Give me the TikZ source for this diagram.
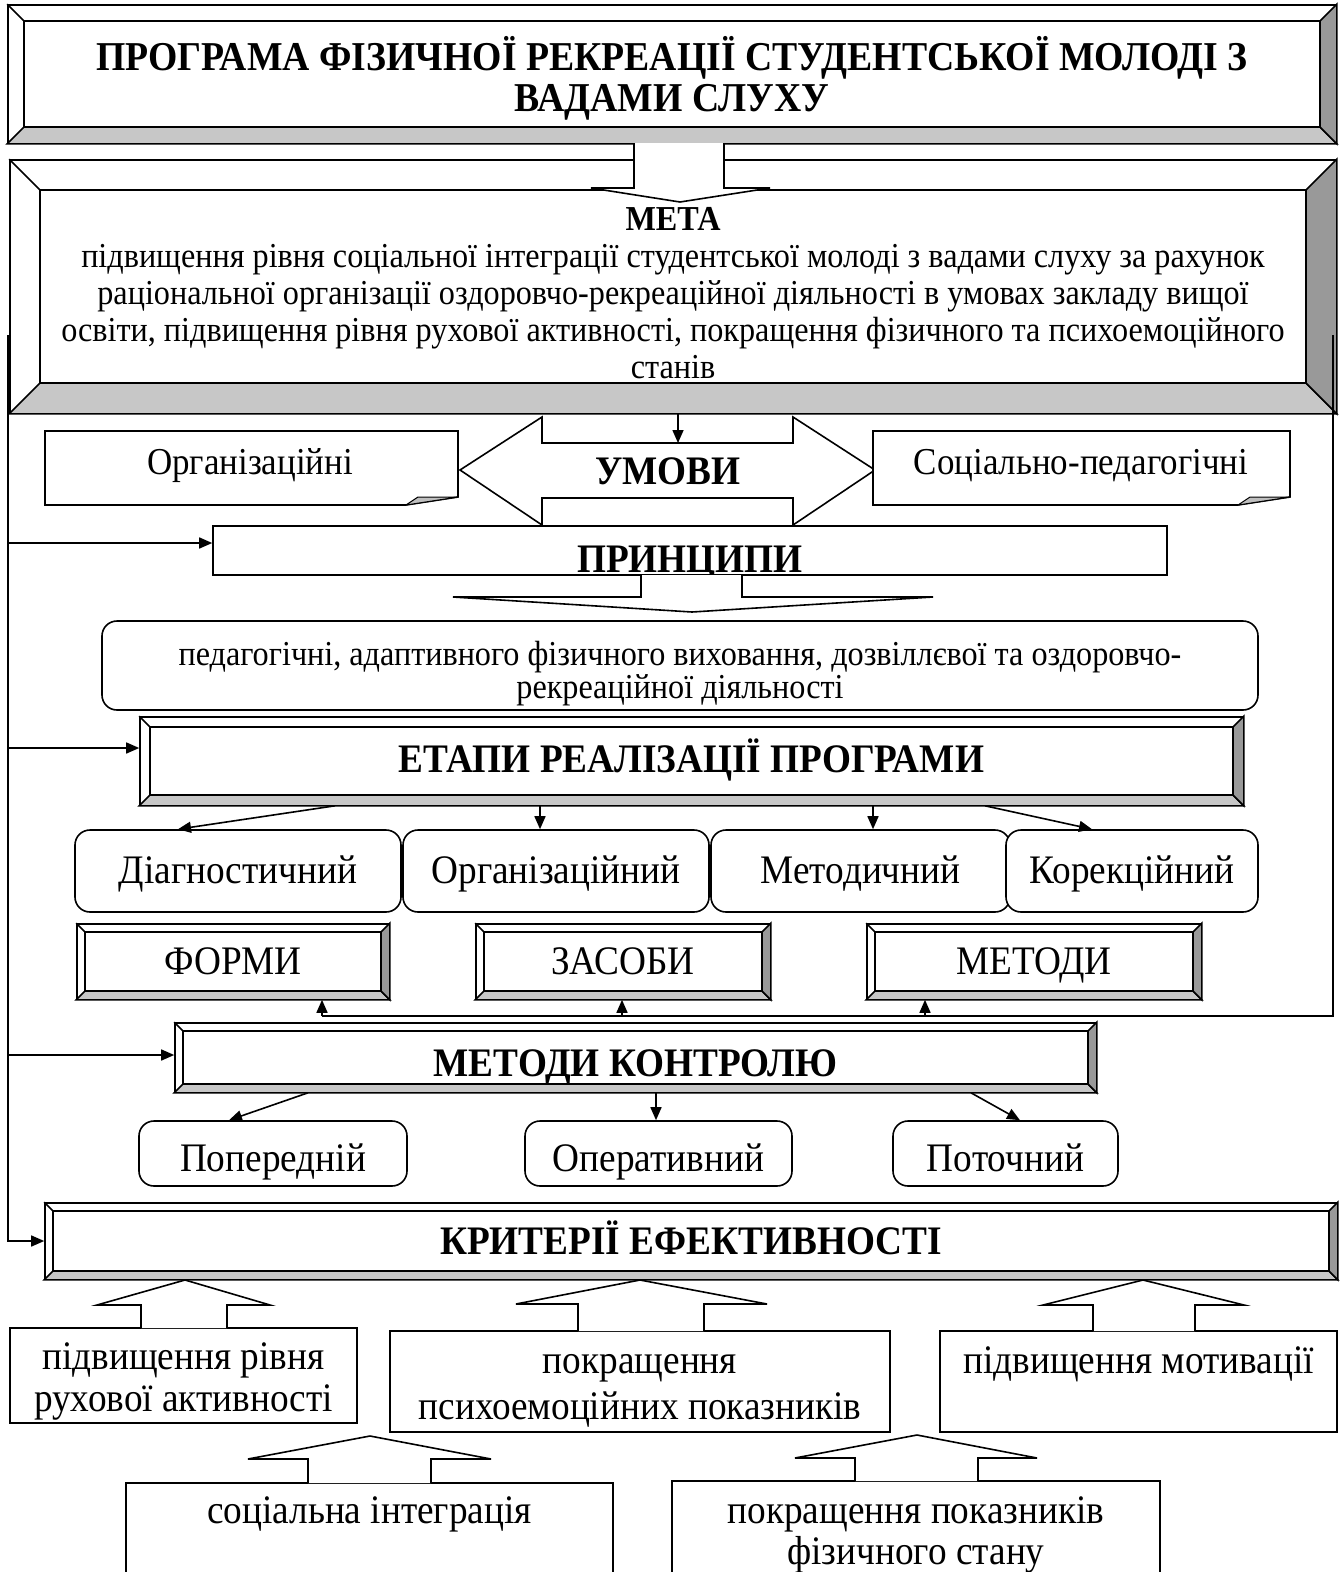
\documentclass[tikz,border=0pt]{standalone}
\usepackage{fontspec}
\setmainfont{Liberation Serif}[FakeStretch=0.92]
\usetikzlibrary{arrows.meta}

\newcommand{\bevelface}[2]{%
  \draw[fill=black!22] (#1.south west) -- (#1.south east) -- ([shift={(-#2,-#2)}]#1.south east) -- ([shift={(#2,-#2)}]#1.south west) -- cycle;
  \draw[fill=black!40] (#1.south east) -- (#1.north east) -- ([shift={(-#2,#2)}]#1.north east) -- ([shift={(-#2,-#2)}]#1.south east) -- cycle;
  \draw (#1.north west) -- ([shift={(#2,#2)}]#1.north west);
  \draw ([shift={(#2,#2)}]#1.north west) rectangle ([shift={(-#2,-#2)}]#1.south east);
}
\newcommand{\blockarrow}[8]{%
  \draw[fill=white] (#5,#8) -- (#5,#7) -- (#3,#7) -- (#1,#2) -- (#4,#7) -- (#6,#7) -- (#6,#8);
}
\newcommand{\notebox}[4]{%
  \draw[fill=white] (#1,#2) -- (#3,#2) -- (#3,{#4-8}) -- ({#3-52},#4) -- (#1,#4) -- cycle;
  \draw[fill=black!25,line width=1pt] ({#3-52},#4) -- ({#3-40},{#4-8}) -- (#3,{#4-8}) -- cycle;
}
\newcommand{\stack}[1]{\vbox{\lineskiplimit=-100pt\halign{\hfil##\hfil\cr#1\crcr}}}

\begin{document}
\begin{tikzpicture}[x=1pt,y=-1pt,line width=1.6pt,
  plain/.style={draw,fill=white,inner sep=0pt},
  rbox/.style={plain,rounded corners=15pt},
  drop/.style={text depth=10pt,text height=#1},
  small/.style={font=\fontsize{35}{37}\selectfont},
  note/.style={font=\fontsize{38}{42}\selectfont},
  lbl/.style={font=\fontsize{40.5}{42}\selectfont},
  head/.style={font=\fontsize{40.5}{42}\selectfont\bfseries},
  arr/.style={-{Triangle[length=13pt,width=11pt]}}]
\useasboundingbox (0,0) rectangle (1344,1572);
\clip (0,0) rectangle (1344,1572);

\node (title) at (672,74) [plain,minimum width=1328pt,minimum height=138pt,drop=84pt,
  font=\fontsize{41}{41}\selectfont\bfseries] {\stack{ПРОГРАМА ФІЗИЧНОЇ РЕКРЕАЦІЇ СТУДЕНТСЬКОЇ МОЛОДІ З\cr ВАДАМИ СЛУХУ}};
\bevelface{title}{17}

\node (meta) at (673,286.5) [plain,minimum width=1326pt,minimum height=253pt,drop=193pt,
  font=\fontsize{35}{37}\selectfont] {\stack{\textbf{МЕТА}\cr підвищення рівня соціальної інтеграції студентської молоді з вадами слуху за рахунок\cr раціональної організації оздоровчо-рекреаційної діяльності в умовах закладу вищої\cr освіти, підвищення рівня рухової активності, покращення фізичного та психоемоційного\cr станів}};
\bevelface{meta}{31}
\blockarrow{680}{202}{591}{770}{634}{724}{188}{143}

\draw[fill=white] (460,470) -- (542,417) -- (542,443) -- (793,443) -- (793,417) -- (875,470) -- (793,525) -- (793,498) -- (542,498) -- (542,525) -- cycle;
\node (umovy) at (668,484) [head,anchor=base] {УМОВИ};
\coordinate (umtop) at (678,443);
\draw[arr] (678,0 |- meta.south) -- (umtop);

\notebox{45}{431}{458}{505}
\node (orgn) at (250,474) [note,anchor=base] {Організаційні};
\notebox{873}{431}{1290}{505}
\node (socp) at (1081,474) [note,anchor=base] {Соціально-педагогічні};

\node (pryn) at (690,550.5) [plain,minimum width=954pt,minimum height=49pt,head,text height=46pt,text depth=3pt] {ПРИНЦИПИ};
\blockarrow{692}{612}{453}{933}{641}{742}{597}{575}

\node (prtxt) at (680,665.5) [rbox,minimum width=1156pt,minimum height=89pt,drop=75pt,
  font=\fontsize{35}{33}\selectfont] {\stack{педагогічні, адаптивного фізичного виховання, дозвіллєвої та оздоровчо-\cr рекреаційної діяльності}};

\node (etapy) at (691.5,761) [plain,minimum width=1103pt,minimum height=88pt,head,drop=32pt] {ЕТАПИ РЕАЛІЗАЦІЇ ПРОГРАМИ};
\bevelface{etapy}{11}

\node (diag) at (238,871) [rbox,minimum width=326pt,minimum height=82pt,lbl,drop=34pt] {Діагностичний};
\node (orgz) at (556,871) [rbox,minimum width=306pt,minimum height=82pt,lbl,drop=34pt] {Організаційний};
\node (metd) at (860.5,871) [rbox,minimum width=299pt,minimum height=82pt,lbl,drop=34pt] {Методичний};
\node (kor) at (1132,871) [rbox,minimum width=252pt,minimum height=82pt,lbl,drop=34pt] {Корекційний};
\draw[arr] (335,0 |- etapy.south) -- (178,0 |- diag.north);
\draw[arr] (540,0 |- etapy.south) -- (540,0 |- orgz.north);
\draw[arr] (873,0 |- etapy.south) -- (873,0 |- metd.north);
\draw[arr] (985,0 |- etapy.south) -- (1092,0 |- kor.north);

\node (formy) at (233,961.5) [plain,minimum width=312pt,minimum height=75pt,lbl,drop=35pt] {ФОРМИ};
\bevelface{formy}{9}
\node (zasoby) at (623,961.5) [plain,minimum width=294pt,minimum height=75pt,lbl,drop=35pt] {ЗАСОБИ};
\bevelface{zasoby}{9}
\node (metody) at (1034,961.5) [plain,minimum width=334pt,minimum height=75pt,lbl,drop=35pt] {МЕТОДИ};
\bevelface{metody}{9}

\node (kontrol) at (635.5,1057.5) [plain,minimum width=921pt,minimum height=69pt,head,drop=47pt] {МЕТОДИ КОНТРОЛЮ};
\bevelface{kontrol}{9}

\node (popr) at (273,1153.5) [rbox,minimum width=268pt,minimum height=65pt,lbl,drop=45pt] {Попередній};
\node (oper) at (658.5,1153.5) [rbox,minimum width=267pt,minimum height=65pt,lbl,drop=45pt] {Оперативний};
\node (potch) at (1005.5,1153.5) [rbox,minimum width=225pt,minimum height=65pt,lbl,drop=45pt] {Поточний};
\draw[arr] (308,0 |- kontrol.south) -- (229,0 |- popr.north);
\draw[arr] (656,0 |- kontrol.south) -- (656,0 |- oper.north);
\draw[arr] (971,0 |- kontrol.south) -- (1020,0 |- potch.north);

\node (kryt) at (691,1241) [plain,minimum width=1292pt,minimum height=76pt,head,drop=36pt] {КРИТЕРІЇ ЕФЕКТИВНОСТІ};
\bevelface{kryt}{9}

\node (ruh) at (183.5,1375.5) [plain,minimum width=347pt,minimum height=95pt,drop=81pt,
  font=\fontsize{40.5}{42}\selectfont] {\stack{підвищення рівня\cr рухової активності}};
\node (psy) at (640,1381.5) [plain,minimum width=500pt,minimum height=101pt,drop=85pt,
  font=\fontsize{40.5}{46}\selectfont] {\stack{покращення\cr психоемоційних показників}};
\node (motv) at (1138.5,1381.5) [plain,minimum width=397pt,minimum height=101pt,lbl,
  text height=10pt,text depth=27pt] {підвищення мотивації};
\blockarrow{185}{1280}{97}{270}{141}{227}{1305}{1328}
\blockarrow{640}{1280}{516}{767}{578}{704}{1304}{1331}
\blockarrow{1143}{1280}{1043}{1244}{1093}{1195}{1305}{1331}

\node (soc) at (369.5,1553) [plain,minimum width=487pt,minimum height=140pt,lbl,
  text height=10pt,text depth=70pt] {соціальна інтеграція};
\node (fiz) at (916,1551) [plain,minimum width=488pt,minimum height=140pt,drop=36pt,
  font=\fontsize{40.5}{41}\selectfont] {\stack{покращення показників\cr фізичного стану}};
\blockarrow{370}{1436}{248}{491}{308}{431}{1459}{1483}
\blockarrow{917}{1435}{795}{1037}{855}{978}{1458}{1481}

\draw[arr] (8,335) |- (kryt.west);
\draw[arr] (8,543) -- (pryn.west |- 8,543);
\draw[arr] (8,748) -- (etapy.west |- 8,748);
\draw[arr] (8,1055) -- (kontrol.west |- 8,1055);
\draw (1333,335) |- (322,1016);
\draw[arr] (322,1016) -- (322,0 |- formy.south);
\draw[arr] (622,1016) -- (622,0 |- zasoby.south);
\draw[arr] (925,1016) -- (925,0 |- metody.south);
\end{tikzpicture}
\end{document}
